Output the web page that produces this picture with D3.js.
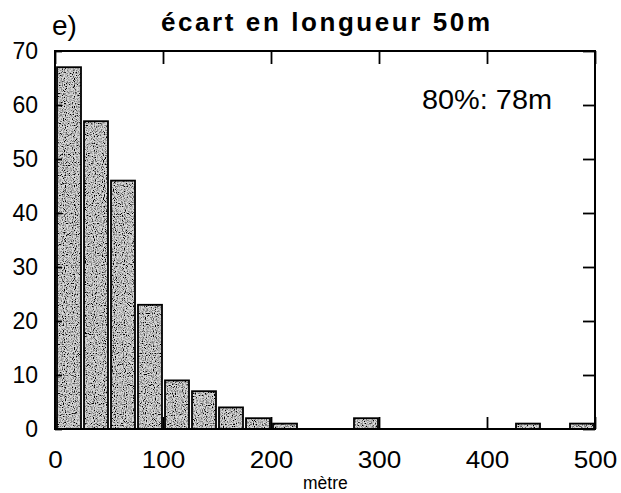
<!DOCTYPE html>
<html><head><meta charset="utf-8">
<script src="https://cdn.jsdelivr.net/npm/d3@7/dist/d3.min.js"></script>
<style>body{margin:0;background:#fff}svg{display:block}text{font-family:"Liberation Sans",Arial,Helvetica,sans-serif}</style>
</head><body>
<script>
// data
const binStarts = [0,25,50,75,100,125,150,175,200,225,250,275,300,325,350,375,400,425,450,475];
const counts    = [67,57,46,23,9,7,4,2,1,0,0,2,0,0,0,0,0,1,0,1];
const binWidth = 25;
const xTicks = [0,100,200,300,400,500];
const yTicks = [0,10,20,30,40,50,60,70];
const titleText = "écart en longueur 50m";
const panelText = "e)";
const noteText = "80%: 78m";
const xLabel = "mètre";

const W = 621, H = 493;
const svg = d3.select("body").append("svg").attr("width", W).attr("height", H);
const L = 55, R = 595, T = 51, B = 429;
const x = d3.scaleLinear().domain([0,500]).range([L,R]);
const y = d3.scaleLinear().domain([0,70]).range([B,T]);

const defs = svg.append("defs");
const f = defs.append("filter").attr("id","stip").attr("x",0).attr("y",0).attr("width",1).attr("height",1);
f.append("feTurbulence").attr("type","fractalNoise").attr("baseFrequency",0.9).attr("numOctaves",1).attr("seed",4).attr("result","n");
f.append("feColorMatrix").attr("in","n").attr("type","matrix")
  .attr("values","0 0 0 0 0  0 0 0 0 0  0 0 0 0 0  4 0 0 0 -1.75").attr("result","dots");
f.append("feComposite").attr("in","dots").attr("in2","SourceGraphic").attr("operator","in").attr("result","d2");
const fm = f.append("feMerge");
fm.append("feMergeNode").attr("in","SourceGraphic");
fm.append("feMergeNode").attr("in","d2");

const bins = binStarts.map((s,i)=>({x0:s, x1:s+binWidth, v:counts[i]})).filter(d=>d.v>0);

const bg = svg.append("g");
bg.selectAll("rect.fill").data(bins).join("rect").attr("class","fill")
  .attr("x", d=>x(d.x0)+2).attr("y", d=>y(d.v))
  .attr("width", d=>x(d.x1)-x(d.x0)-3).attr("height", d=>B-y(d.v))
  .attr("fill","#d8d8d8").attr("filter","url(#stip)");
bg.selectAll("rect.edge").data(bins).join("rect").attr("class","edge")
  .attr("x", d=>x(d.x0)+2).attr("y", d=>y(d.v))
  .attr("width", d=>x(d.x1)-x(d.x0)-3).attr("height", d=>B-y(d.v))
  .attr("fill","none").attr("stroke","#000").attr("stroke-width",1.8);

// axes
const fs = 23;
const ax = svg.append("g").attr("transform",`translate(${L},0)`)
  .call(d3.axisLeft(y).tickValues(yTicks).tickSize(-7).tickPadding(17));
const bx = svg.append("g").attr("transform",`translate(0,${B})`)
  .call(d3.axisBottom(x).tickValues(xTicks).tickSize(-12).tickPadding(22));
const tx = svg.append("g").attr("transform",`translate(0,${T})`)
  .call(d3.axisTop(x).tickValues(xTicks).tickSize(-13).tickFormat(""));
const rx = svg.append("g").attr("transform",`translate(${R},0)`)
  .call(d3.axisRight(y).tickValues(yTicks).tickSize(-12).tickFormat(""));
[ax,bx,tx,rx].forEach(g=>{
  g.select(".domain").remove();
  g.selectAll(".tick line").attr("stroke","#000").attr("stroke-width",1.8);
  g.selectAll("text").attr("font-size",fs).attr("fill","#000").attr("font-family",'"Liberation Sans",Arial,sans-serif');
});
bx.selectAll("text").attr("font-size",24).attr("textLength", function(){return this.textContent.length*14.5;}).attr("lengthAdjust","spacingAndGlyphs");

svg.append("rect").attr("x",L).attr("y",T).attr("width",R-L).attr("height",B-T)
  .attr("fill","none").attr("stroke","#000").attr("stroke-width",2);

// texts
svg.append("text").attr("x",52).attr("y",35).attr("font-size",28).text(panelText);
svg.append("text").attr("x",161).attr("y",31).attr("font-size",26).attr("font-weight","bold")
  .attr("textLength",329).attr("lengthAdjust","spacing").text(titleText);
svg.append("text").attr("x",422).attr("y",109).attr("font-size",27)
  .attr("textLength",130).attr("lengthAdjust","spacingAndGlyphs").text(noteText);
svg.append("text").attr("x",303).attr("y",489).attr("font-size",17.5).text(xLabel);
</script>
</body></html>
